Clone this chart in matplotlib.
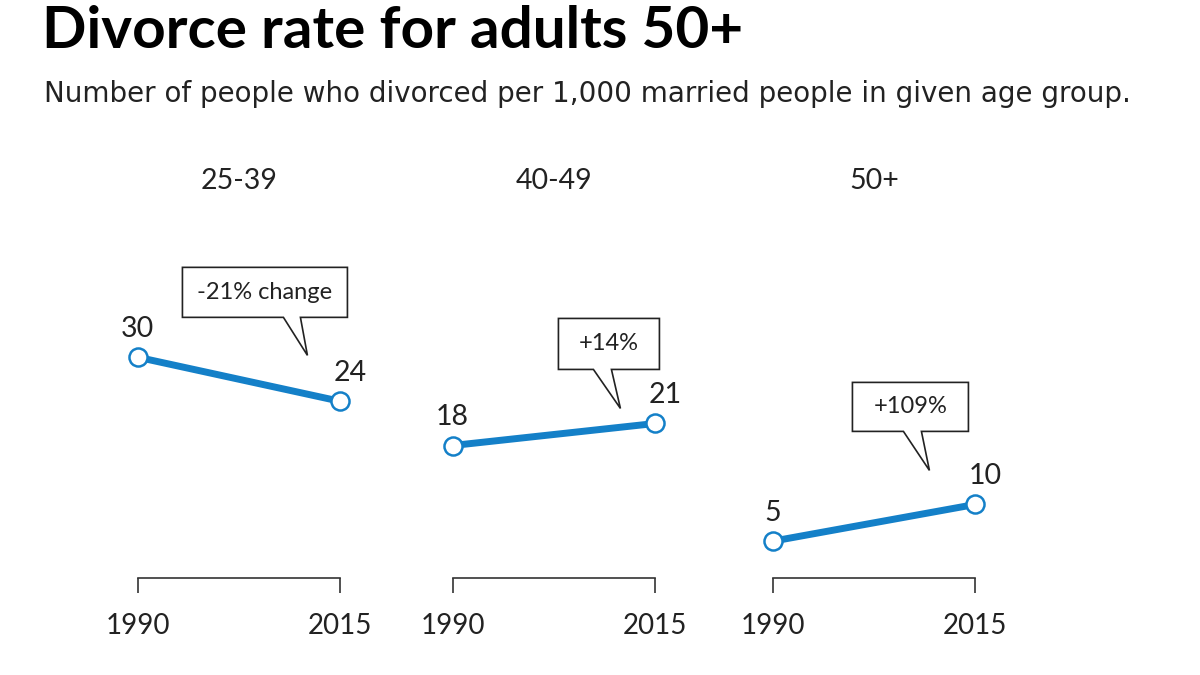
import numpy as np
import matplotlib.pyplot as plt
import matplotlib.transforms as mtransforms
from matplotlib.patches import Polygon

plt.rcParams['font.family'] = ['Lato', 'DejaVu Sans']

# dati
groups = ['25-39', '40-49', '50+']
years = [1990, 2015]
rate_1990 = [30, 18, 5]
rate_2015 = [24, 21, 10]
changes = ['-21% change', '+14%', '+109%']

blue = '#1480c8'
dark = '#222222'

# callout in pixel relativi al punto 2015 (box x0, x1, y0, y1 verso l'alto; base punta; punta)
callouts = [
    dict(box=(-158, 7, 84, 134), base=(-57, -40), tip=(-33, 46)),
    dict(box=(-97, 4, 54, 105), base=(-62, -44), tip=(-35, 15)),
    dict(box=(-123, -7, 73, 122), base=(-72, -54), tip=(-46, 34)),
]
# posizioni (px) a sinistra degli assi
lefts = [97, 412, 732]

fig = plt.figure(figsize=(12, 6.75), dpi=100)
fig.text(0.035, 1 - 48 / 675, 'Divorce rate for adults 50+', fontsize=42,
         fontweight='bold', color='black', va='baseline')
fig.text(0.037, 1 - 102 / 675,
         'Number of people who divorced per 1,000 married people in given age group.',
         fontsize=20, color=dark, va='baseline', family='DejaVu Sans')

px_per_unit = 7.36
ymax = 58
for i in range(3):
    ax = fig.add_axes([lefts[i] / 1200, 1 - 578 / 675, 284 / 1200, ymax * px_per_unit / 675])
    ax.set_xlim(1985, 2020)
    ax.set_ylim(0, ymax)
    vals = [rate_1990[i], rate_2015[i]]
    ax.plot(years, vals, '-o', color=blue, lw=5, ms=13, mfc='white', mec=blue,
            mew=1.8, solid_capstyle='butt', zorder=3, clip_on=False)

    # etichette valori
    ax.annotate(str(vals[0]), (years[0], vals[0]), xytext=(0, 11), textcoords='offset points',
                ha='center', va='bottom', fontsize=20.5, color=dark)
    ax.annotate(str(vals[1]), (years[1], vals[1]), xytext=(7, 11), textcoords='offset points',
                ha='center', va='bottom', fontsize=20.5, color=dark)

    # titolo pannello
    trans = mtransforms.blended_transform_factory(ax.transData, ax.transAxes)
    ax.text(2002.5, (578 - 181) / (ymax * px_per_unit), groups[i], transform=trans,
            ha='center', va='center', fontsize=20.5, color=dark)

    # callout
    c = callouts[i]
    x0, x1, y0, y1 = c['box']
    b0, b1 = c['base']
    tx, ty = c['tip']
    verts = np.array([(x0, y1), (x1, y1), (x1, y0), (b1, y0), (tx, ty),
                      (b0, y0), (x0, y0)]) / 100.0
    ctrans = fig.dpi_scale_trans + mtransforms.ScaledTranslation(years[1], vals[1], ax.transData)
    ax.add_patch(Polygon(verts, closed=True, transform=ctrans, facecolor='white',
                         edgecolor=dark, lw=1.2, zorder=4, clip_on=False))
    ax.text((x0 + x1) / 200.0, (y0 + y1) / 200.0, changes[i], transform=ctrans,
            ha='center', va='center', fontsize=17, color=dark, zorder=5)

    # asse a parentesi
    for s in ['top', 'right', 'left']:
        ax.spines[s].set_visible(False)
    ax.spines['bottom'].set_bounds(years[0], years[1])
    ax.spines['bottom'].set_color('#333333')
    ax.spines['bottom'].set_linewidth(1.2)
    ax.set_yticks([])
    ax.set_xticks(years)
    ax.set_xticklabels([str(y) for y in years])
    ax.tick_params(axis='x', direction='out', length=11, width=1.2, color='#333333',
                   pad=14, labelsize=20, labelcolor=dark)
    ax.patch.set_visible(False)

fig.savefig('out.png', dpi=100)
